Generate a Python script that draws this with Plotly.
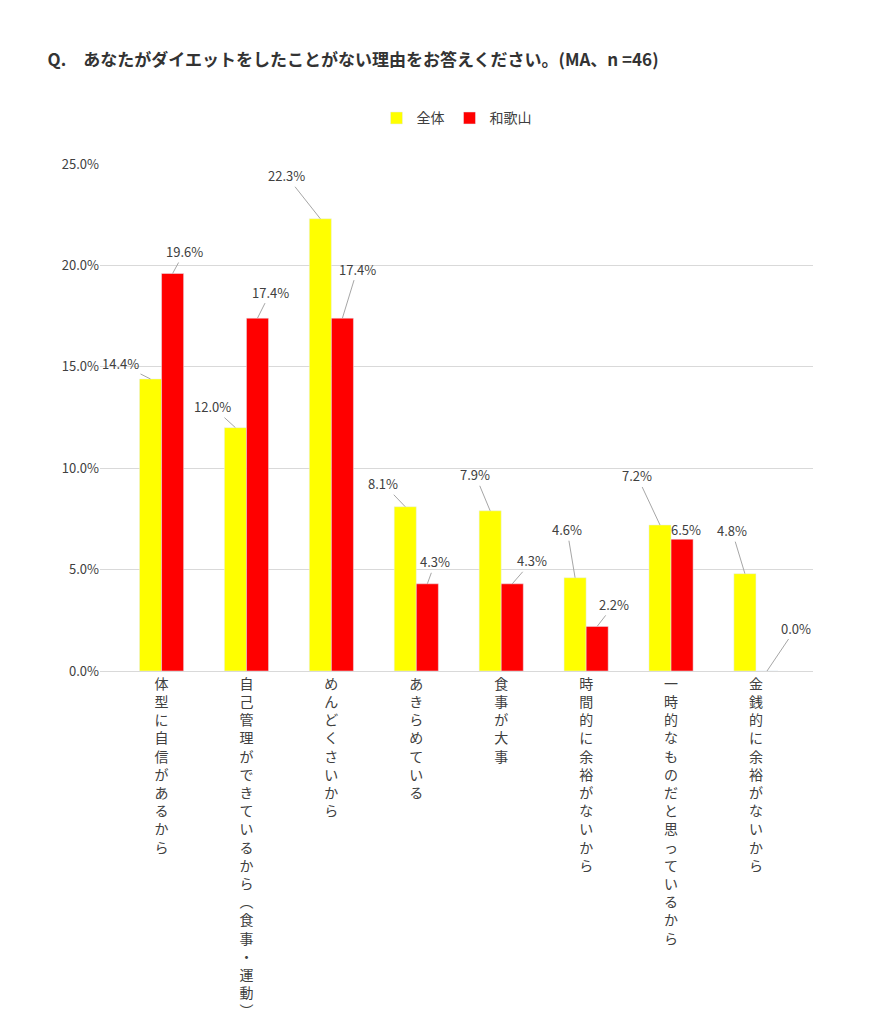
import plotly.graph_objects as go

categories = ["体型に自信があるから", "自己管理ができているから︵食事・運動︶", "めんどくさいから", "あきらめている",
              "食事が大事", "時間的に余裕がないから", "一時的なものだと思っているから", "金銭的に余裕がないから"]
zentai = [14.4, 12.0, 22.3, 8.1, 7.9, 4.6, 7.2, 4.8]
wakayama = [19.6, 17.4, 17.4, 4.3, 4.3, 2.2, 6.5, 0.0]
off_z = [(-30, -15), (-23, -21), (-34, -43), (-22, -23), (-15, -36), (-8, -48), (-23, -49), (-13, -43)]
off_w = [(12, -22), (13, -26), (15, -49), (8, -22), (20, -23), (17, -22), (4, -10), (29, -43)]

ticks = ["<br>".join(c) for c in categories]
fig = go.Figure()
fig.add_bar(x=ticks, y=zentai, name="全体", marker_color="#FFFF00", offsetgroup=0)
fig.add_bar(x=ticks, y=wakayama, name="和歌山", marker_color="#FF0000", offsetgroup=1)

for i, t in enumerate(ticks):
    for vals, offs, xs in ((zentai, off_z, -0.13), (wakayama, off_w, 0.13)):
        ax, ay = offs[i]
        fig.add_annotation(x=i + xs, y=vals[i], xref="x", yref="y", text=f"{vals[i]:.1f}%",
                           showarrow=True, arrowhead=0, arrowwidth=1, arrowcolor="#a6a6a6",
                           ax=ax, ay=ay, font=dict(size=13, color="#404040"), standoff=0)

fig.update_layout(
    width=879, height=1024, plot_bgcolor="white", paper_bgcolor="white",
    font=dict(family="Noto Sans CJK JP", color="#404040", size=13),
    title=dict(text="<b>Q.　あなたがダイエットをしたことがない理由をお答えください。(MA、n =46)</b>",
               x=0.045, y=0.955, xanchor="left", font=dict(size=17, color="#333")),
    barmode="group", bargap=0.48, bargroupgap=0,
    margin=dict(l=92, r=74, t=156, b=339),
    legend=dict(orientation="h", x=0.5, xanchor="center", y=1.09, yanchor="middle", font=dict(size=14)),
    xaxis=dict(showline=True, linecolor="#d9d9d9", tickfont=dict(size=14), ticks="outside", ticklen=0),
    yaxis=dict(range=[0, 25], dtick=5, ticksuffix="%", tickformat=".1f", gridcolor="#d9d9d9",
               zeroline=False, showline=False),
)
fig.write_html("out.html")
